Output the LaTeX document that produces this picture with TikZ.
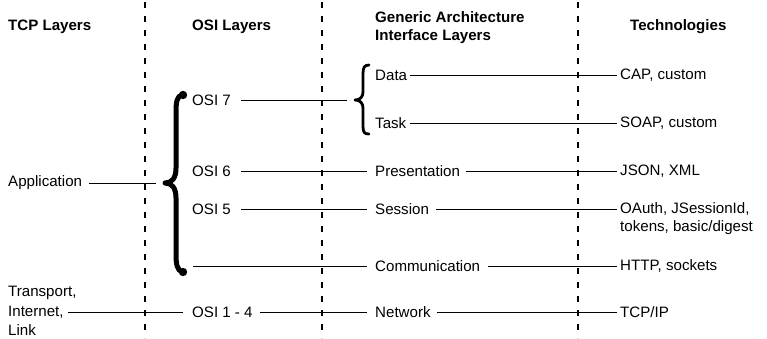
\documentclass[tikz,border=0pt]{standalone}
\usepackage{fontspec}
\setmainfont{Liberation Sans}
\begin{document}
\begin{tikzpicture}[x=1pt,y=-1pt,
  lbl/.style={anchor=west,inner sep=0pt,font=\fontsize{15.1}{17}\selectfont},
  hdr/.style={lbl,font=\fontsize{15.1}{18}\selectfont\bfseries,align=left},
  conn/.style={line width=0.9pt},
  sep/.style={line width=1.1pt,dash pattern=on 6pt off 8pt},
  bracepath/.style={line width=#1,line cap=round,line join=round}]
\useasboundingbox (0,0) rectangle (767,338);

% column separators
\draw[sep] (145,2) -- (145,338);
\draw[sep] (322,2) -- (322,338);
\draw[sep] (578,2) -- (578,338);

% headers
\node[hdr] (htcp) at (8,27) {TCP Layers};
\node[hdr] (hosi) at (192,27) {OSI Layers};
\node[hdr] (hgen) at (375,28) {Generic Architecture\\Interface Layers};
\node[hdr] (htech) at (630,27) {Technologies};

% TCP layers
\node[lbl] (app) at (8,183) {Application};
\node[lbl] (tr1) at (8,293) {Transport,};
\node[lbl] (tr2) at (8,312) {Internet,};
\node[lbl] (tr3) at (8,330) {Link};

% OSI layers
\node[lbl] (osi7) at (192,100) {OSI 7};
\node[lbl] (osi6) at (192,171) {OSI 6};
\node[lbl] (osi5) at (192,209) {OSI 5};
\node[lbl] (osi14) at (192,312) {OSI 1 - 4};
\coordinate (osiC) at (193,266);

% generic architecture interface layers
\node[lbl] (data) at (375,75) {Data};
\node[lbl] (task) at (375,123) {Task};
\node[lbl] (pres) at (375,171) {Presentation};
\node[lbl] (sess) at (375,209) {Session};
\node[lbl] (comm) at (375,266) {Communication};
\node[lbl] (net) at (375,312) {Network};

% technologies
\node[lbl] (cap) at (620,75) {CAP, custom};
\node[lbl] (soap) at (620,123) {SOAP, custom};
\node[lbl] (json) at (620,171) {JSON, XML};
\node[lbl] (oauth) at (620,209) {OAuth, JSessionId,};
\node[lbl] (oauthb) at (620,228) {tokens, basic/digest};
\node[lbl] (http) at (620,266) {HTTP, sockets};
\node[lbl] (tcpip) at (620,312) {TCP/IP};

% brace tips
\coordinate (bigtip) at (156,183);
\coordinate (smalltip) at (347,100);

% braces
\draw[bracepath=5pt]
  (182,95) .. controls (177,96) and (176,102) .. (176,112) -- (176,168)
  .. controls (176,178) and (172,183) .. (165,183)
  .. controls (172,183) and (176,188) .. (176,198) -- (176,254)
  .. controls (176,264) and (177,270) .. (182,272);
\fill (183,95) circle (4.2pt);
\fill (183,272) circle (4.2pt);
\draw[bracepath=2.8pt]
  (369,65) .. controls (364,65) and (363,68) .. (363,74) -- (363,92)
  .. controls (363,97) and (360,100) .. (355,100)
  .. controls (360,100) and (363,103) .. (363,108) -- (363,126)
  .. controls (363,132) and (364,134) .. (369,134);

% connectors
\draw[conn,shorten <=7pt] (app) -- (bigtip);
\draw[conn,shorten <=4pt,shorten >=9pt] (tr2) -- (osi14);
\draw[conn,shorten <=10pt] (osi7) -- (smalltip);
\draw[conn,shorten <=10pt,shorten >=8pt] (osi6) -- (pres);
\draw[conn,shorten <=10pt,shorten >=8pt] (osi5) -- (sess);
\draw[conn,shorten >=8pt] (osiC) -- (comm);
\draw[conn,shorten <=7pt,shorten >=8pt] (osi14) -- (net);
\draw[conn,shorten <=3pt,shorten >=3pt] (data) -- (cap);
\draw[conn,shorten <=4pt,shorten >=3pt] (task) -- (soap);
\draw[conn,shorten <=6pt,shorten >=3pt] (pres) -- (json);
\draw[conn,shorten <=7pt,shorten >=3pt] (sess) -- (oauth);
\draw[conn,shorten <=8pt,shorten >=3pt] (comm) -- (http);
\draw[conn,shorten <=6pt,shorten >=3pt] (net) -- (tcpip);
\end{tikzpicture}
\end{document}
